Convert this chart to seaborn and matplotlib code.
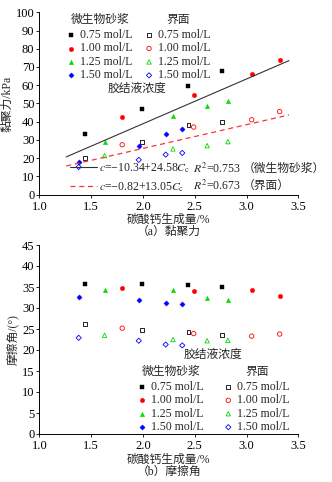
import matplotlib
matplotlib.use("Agg")
import matplotlib.pyplot as plt
from matplotlib.legend import Legend
import seaborn as sns
import pandas as pd
import numpy as np

sns.set_theme(style="ticks")
plt.rcParams['font.family'] = ['Liberation Serif', 'Noto Sans CJK SC', 'DejaVu Sans']
plt.rcParams['mathtext.fontset'] = 'stix'
plt.rcParams['axes.unicode_minus'] = True

# ---------------- data ----------------
concs = ["0.75 mol/L", "1.00 mol/L", "1.25 mol/L", "1.50 mol/L"]
colors = ["#000000", "#ff0000", "#00dd00", "#0000ff"]
markers = ["s", "o", "^", "D"]

# CaCO3 content (%) per concentration
x_075 = [1.44, 1.99, 2.44, 2.76]
x_100 = [1.80, 2.49, 3.05, 3.32]
x_125 = [1.63, 2.29, 2.62, 2.82]
x_150 = [1.38, 1.96, 2.22, 2.38]

# cohesion (kPa): mortar / interface
coh_m_075 = [33.3, 46.8, 59.6, 67.9]
coh_m_100 = [42.8, 54.6, 66.0, 73.6]
coh_m_125 = [28.6, 43.2, 48.6, 51.5]
coh_m_150 = [17.9, 26.4, 33.3, 35.9]
coh_i_075 = [19.9, 29.0, 38.3, 39.9]
coh_i_100 = [27.3, 37.0, 41.0, 45.5]
coh_i_125 = [21.3, 25.0, 26.8, 29.0]
coh_i_150 = [15.1, 19.0, 21.9, 22.8]

# friction angle (deg): mortar / interface
phi_m_075 = [35.6, 35.6, 35.4, 35.0]
phi_m_100 = [34.8, 34.0, 34.4, 32.9]
phi_m_125 = [34.2, 34.2, 32.5, 32.0]
phi_m_150 = [32.6, 31.8, 31.25, 30.9]
phi_i_075 = [26.2, 24.7, 24.3, 23.5]
phi_i_100 = [25.2, 23.9, 23.3, 23.8]
phi_i_125 = [23.5, 22.5, 22.2, 22.3]
phi_i_150 = [22.9, 22.2, 21.3, 21.1]

# regression fits: c = a + b*Cc
fit_range = [1.26, 3.41]
fit_m = (-10.34, 24.58)
fit_i = (-0.82, 13.05)
fit_eq = [r"$c$=−10.34+24.58$C_{\rm c}$", r"$c$=−0.82+13.05$C_{\rm c}$"]
fit_r2 = [r"$R^2$=0.753", r"$R^2$=0.673"]
fit_tag = ["（微生物砂浆）", "（界面）"]

xs = [x_075, x_100, x_125, x_150]
coh_m = [coh_m_075, coh_m_100, coh_m_125, coh_m_150]
coh_i = [coh_i_075, coh_i_100, coh_i_125, coh_i_150]
phi_m = [phi_m_075, phi_m_100, phi_m_125, phi_m_150]
phi_i = [phi_i_075, phi_i_100, phi_i_125, phi_i_150]

W, H = 332, 482
fig = plt.figure(figsize=(W / 100, H / 100), dpi=100)

def px_axes(l, r, t, b):
    return fig.add_axes([l / W, 1 - b / H, (r - l) / W, (b - t) / H])

ax1 = px_axes(39.3, 298.3, 12.3, 194.5)
ax2 = px_axes(39.3, 298.3, 245.0, 434.0)

FS = 8.5
TFS = 9

def draw(ax, ym, yi):
    for k in range(4):
        dm = pd.DataFrame({"x": xs[k], "y": ym[k]})
        di = pd.DataFrame({"x": xs[k], "y": yi[k]})
        s = {"s": 8, "o": 10, "^": 10, "D": 7}[markers[k]]
        sns.scatterplot(data=dm, x="x", y="y", ax=ax, marker=markers[k], color=colors[k],
                        edgecolor=colors[k], s=s, linewidth=0.3, label=concs[k], legend=False)
        sns.scatterplot(data=di, x="x", y="y", ax=ax, marker=markers[k], facecolor="none",
                        edgecolor=colors[k], s=s, linewidth=0.6, label=concs[k], legend=False)
    cols = ax.collections
    return cols[0::2], cols[1::2]

def style(ax, ylim, yticks):
    ax.set_xlim(1.0, 3.5)
    ax.set_ylim(*ylim)
    ax.set_xticks([1.0, 1.5, 2.0, 2.5, 3.0, 3.5])
    ax.set_xticklabels(["1.0", "1.5", "2.0", "2.5", "3.0", "3.5"])
    ax.set_yticks(yticks)
    ax.tick_params(axis="both", direction="out", length=2, width=0.6, labelsize=TFS,
                   colors="#000000")
    ax.tick_params(axis="x", pad=2.5)
    ax.tick_params(axis="y", pad=1.5)
    sns.despine(ax=ax)
    for sp in ["left", "bottom"]:
        ax.spines[sp].set_linewidth(0.7)
        ax.spines[sp].set_color("#000000")
    ax.set_xlabel("碳酸钙生成量/%", fontsize=FS, labelpad=1)

def two_legends(ax, hm, hi, pos_m, pos_i):
    kw = dict(loc="upper left", frameon=False, fontsize=FS, title_fontsize=FS,
              handlelength=0.6, handletextpad=0.45, borderpad=0, borderaxespad=0,
              labelspacing=0.12, handleheight=0.6)
    lg1 = Legend(ax, hm, concs, title="微生物砂浆", bbox_to_anchor=pos_m, **kw)
    lg2 = Legend(ax, hi, concs, title="界面", bbox_to_anchor=pos_i, **kw)
    for lg in (lg1, lg2):
        lg._legend_box.sep = 2
        ax.add_artist(lg)

# ---------- (a) cohesion ----------
hm, hi = draw(ax1, coh_m, coh_i)
fx = np.array(fit_range)
l1, = ax1.plot(fx, fit_m[0] + fit_m[1] * fx, color="#333333", lw=0.8, ls="-")
l2, = ax1.plot(fx, fit_i[0] + fit_i[1] * fx, color="#ff3030", lw=0.9, ls=(0, (4, 3)))
style(ax1, (0, 100), list(range(0, 101, 10)))
ax1.set_ylabel("黏聚力/kPa", fontsize=FS, labelpad=2)
two_legends(ax1, hm, hi, (0.109, 0.99), (0.41, 0.99))
ax1.text(0.377, 0.579, "胶结液浓度", transform=ax1.transAxes, fontsize=FS,
         ha="center", va="center")
row_y = [0.140, 0.047]
eq = Legend(ax1, [l1, l2], fit_eq,
            loc="center left", bbox_to_anchor=(0.118, (row_y[0] + row_y[1]) / 2),
            frameon=False, fontsize=FS,
            handlelength=2.3, handletextpad=0.2, borderpad=0, borderaxespad=0,
            labelspacing=0.45)
ax1.add_artist(eq)
for k in range(2):
    ax1.text(0.777, row_y[k], fit_r2[k], transform=ax1.transAxes, fontsize=FS,
             va="center", ha="right")
    ax1.text(0.786, row_y[k], fit_tag[k], transform=ax1.transAxes, fontsize=FS, va="center")
ax1.text(0.5, -0.205, "（a）黏聚力", transform=ax1.transAxes, fontsize=FS, ha="center", va="center")

# ---------- (b) friction angle ----------
hm, hi = draw(ax2, phi_m, phi_i)
style(ax2, (0, 45), list(range(0, 46, 5)))
ax2.set_ylabel("摩擦角/(°)", fontsize=FS, labelpad=2)
two_legends(ax2, hm, hi, (0.382, 0.36), (0.716, 0.36))
ax2.text(0.671, 0.418, "胶结液浓度", transform=ax2.transAxes, fontsize=FS,
         ha="center", va="center")
ax2.text(0.5, -0.20, "（b）摩擦角", transform=ax2.transAxes, fontsize=FS, ha="center", va="center")

fig.savefig("out.png", dpi=100, facecolor="white")
